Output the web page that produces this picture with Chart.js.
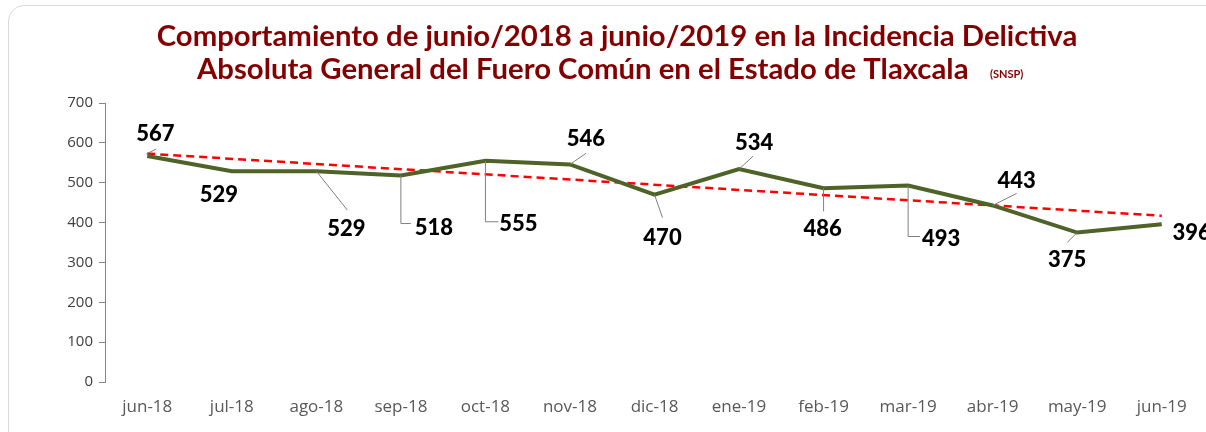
<!DOCTYPE html>
<html>
<head>
<meta charset="utf-8">
<script src="https://cdn.jsdelivr.net/npm/chart.js@4.4.0/dist/chart.umd.min.js"></script>
<style>
html, body { margin: 0; padding: 0; background: #fff; }
#wrap { position: relative; width: 1206px; height: 432px; overflow: hidden; }
#frame { position: absolute; left: 8px; top: 5px; width: 1240px; height: 450px; border: 1px solid #d9d9d9; border-radius: 16px; }
canvas { position: absolute; left: 0; top: 0; }
</style>
</head>
<body>
<div id="wrap">
  <div id="frame"></div>
  <canvas id="chart" width="1206" height="432"></canvas>
</div>
<script>
const months = ["jun-18", "jul-18", "ago-18", "sep-18", "oct-18", "nov-18", "dic-18",
                "ene-19", "feb-19", "mar-19", "abr-19", "may-19", "jun-19"];
const incidencia = [567, 529, 529, 518, 555, 546, 470, 534, 486, 493, 443, 375, 396];
const trendStart = 573;
const trendEnd = 417;
const yTicks = [0, 100, 200, 300, 400, 500, 600, 700];

const titleLine1 = "Comportamiento de junio/2018 a junio/2019 en la Incidencia Delictiva";
const titleLine2 = "Absoluta General del Fuero Común en el Estado de Tlaxcala";
const titleSource = "(SNSP)";

// label offset from its point, and leader line (relative to point)
const labelPlace = [
    { dx: 8,   dy: -22, lead: [[-1, -2], [9, -7]] },
    { dx: -13, dy: 24,  lead: null },
    { dx: 30,  dy: 58,  lead: [[0, 0], [31, 39]] },
    { dx: 33,  dy: 52,  lead: [[0, 0], [0, 48], [10, 48]] },
    { dx: 33,  dy: 63,  lead: [[0, 0], [0, 61], [13, 61]] },
    { dx: 16,  dy: -25, lead: [[0, 0], [16, -11]] },
    { dx: 8,   dy: 43,  lead: [[0, 0], [8, 23]] },
    { dx: 15,  dy: -26, lead: [[0, 0], [14, -13]] },
    { dx: -1,  dy: 41,  lead: [[0, 0], [0, 23]] },
    { dx: 33,  dy: 53,  lead: [[0, 0], [0, 51], [12, 51]] },
    { dx: 24,  dy: -25, lead: [[0, 0], [24, -12]] },
    { dx: -10, dy: 27,  lead: [[0, 0], [-10, 10]] },
    { dx: 30,  dy: 9,   lead: null }
];

const titlePlugin = {
    id: "titleText",
    afterDraw(chart) {
        const ctx = chart.ctx;
        ctx.save();
        ctx.fillStyle = "#840000";
        ctx.textBaseline = "middle";
        let size = 26;
        ctx.font = "bold " + size + "px Lato";
        size = size * 921 / ctx.measureText(titleLine1).width;
        ctx.font = "bold " + size + "px Lato";
        ctx.textAlign = "center";
        ctx.fillText(titleLine1, 617, 37);
        ctx.textAlign = "left";
        ctx.fillText(titleLine2, 197, 70);
        ctx.font = "bold 11px Lato";
        ctx.fillText(titleSource, 990, 74);
        ctx.restore();
    }
};

const labelPlugin = {
    id: "pointLabels",
    afterDatasetsDraw(chart) {
        const ctx = chart.ctx;
        const meta = chart.getDatasetMeta(1);
        ctx.save();
        meta.data.forEach((pt, i) => {
            const p = labelPlace[i];
            if (p.lead) {
                ctx.strokeStyle = "#808080";
                ctx.lineWidth = 1;
                ctx.beginPath();
                p.lead.forEach((q, k) => {
                    const x = pt.x + q[0], y = pt.y + q[1];
                    if (k === 0) ctx.moveTo(x, y); else ctx.lineTo(x, y);
                });
                ctx.stroke();
            }
            ctx.fillStyle = "#000";
            ctx.font = "900 22px Lato";
            ctx.textAlign = "center";
            ctx.textBaseline = "middle";
            ctx.fillText(String(incidencia[i]), pt.x + p.dx, pt.y + p.dy);
        });
        ctx.restore();
    }
};

new Chart(document.getElementById("chart"), {
    type: "line",
    data: {
        labels: months,
        datasets: [{
            label: "Tendencia",
            data: [{ x: months[0], y: trendStart }, { x: months[months.length - 1], y: trendEnd }],
            borderColor: "#ff0000",
            borderWidth: 2.5,
            borderDash: [8, 5],
            pointRadius: 0,
            fill: false,
            order: 2
        }, {
            label: "Incidencia",
            data: incidencia,
            borderColor: "#4f6228",
            borderWidth: 4,
            pointRadius: 0,
            tension: 0,
            fill: false,
            order: 1
        }]
    },
    options: {
        responsive: false,
        animation: false,
        layout: { padding: { top: 103, left: 0, right: 2, bottom: 0 } },
        plugins: { legend: { display: false }, tooltip: { enabled: false }, title: { display: false } },
        scales: {
            x: {
                offset: true,
                afterFit: s => { s.height = 50; },
                grid: { display: false, drawTicks: false },
                border: { display: false },
                ticks: { color: "#595959", font: { family: "Open Sans", size: 17 }, padding: 15, maxRotation: 0, autoSkip: false }
            },
            y: {
                min: 0,
                max: 700,
                afterBuildTicks: s => { s.ticks = yTicks.map(v => ({ value: v })); },
                afterFit: s => { s.width = 105; },
                grid: { drawOnChartArea: false, tickLength: 6, color: "#868686" },
                border: { display: true, color: "#868686" },
                ticks: { color: "#404040", font: { family: "Open Sans", size: 15 }, padding: 6 }
            }
        }
    },
    plugins: [titlePlugin, labelPlugin]
});
</script>
</body>
</html>
